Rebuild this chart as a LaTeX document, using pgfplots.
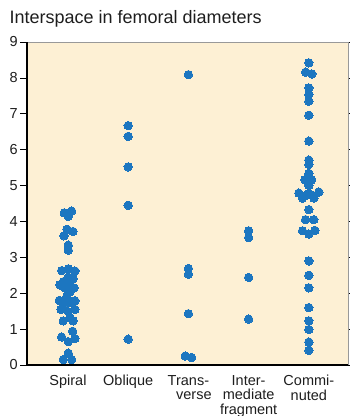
\documentclass[border=0pt]{standalone}
\usepackage{fontspec}
\setmainfont{Liberation Sans}
\usepackage{pgfplots}
\pgfplotsset{compat=1.18}
\usepackage{pgfplotstable}
\definecolor{dotblue}{HTML}{1C76C0}
\definecolor{cream}{HTML}{FDF0D4}
\definecolor{txt}{HTML}{1E1E1E}
\pgfplotsset{dot/.style={only marks, mark=*, mark size=4.2pt, color=dotblue, mark options={fill=dotblue, draw=dotblue, line width=0pt}}}

\pgfplotstableread{
x y
0.939 4.24
1.061 4.29
1.005 4.14
0.983 3.78
1.083 3.72
0.934 3.60
1.005 3.34
1.005 3.20
0.895 2.63
1.005 2.68
1.116 2.62
1.005 2.45
1.088 2.40
0.922 2.32
0.867 2.23
1.033 2.24
0.950 2.15
1.100 2.15
1.033 2.04
0.978 1.90
0.856 1.80
1.116 1.79
0.950 1.72
1.045 1.74
0.884 1.55
1.116 1.55
1.005 1.49
1.033 1.32
0.922 1.23
1.088 1.23
1.078 0.94
0.895 0.78
1.116 0.74
1.005 0.65
1.005 0.33
0.922 0.15
1.061 0.15
}\spiral

\pgfplotstableread{
x y
2 6.67
2 6.37
2 5.52
2 4.45
2 0.72
}\oblique

\pgfplotstableread{
x y
3 8.09
3 2.69
3 2.53
3 1.43
2.947 0.25
3.053 0.21
}\transverse

\pgfplotstableread{
x y
4 3.74
4 3.55
4 2.44
4 1.28
}\intermediate

\pgfplotstableread{
x y
5.000 8.42
4.945 8.16
5.050 8.11
5.000 7.72
5.000 7.54
5.000 7.35
5.000 6.96
5.000 6.24
5.000 5.71
5.000 5.59
5.000 5.34
4.934 5.16
5.045 5.16
5.000 5.00
4.834 4.79
5.166 4.82
4.934 4.71
5.083 4.71
5.000 4.78
4.895 4.65
5.083 4.65
5.000 4.33
4.945 4.05
5.083 4.05
4.895 3.74
5.100 3.75
5.000 3.65
5.000 2.90
5.000 2.50
5.000 2.15
5.000 1.60
5.000 1.23
5.000 0.99
5.000 0.64
5.000 0.41
}\comminuted

\begin{document}
\begin{tikzpicture}
\useasboundingbox (0,0) rectangle (350pt,416pt);
\node[anchor=base west, font=\fontsize{18}{20}\selectfont, text=txt, inner sep=0pt] at (9.3pt,392pt) {Interspace in femoral diameters};
\begin{axis}[at={(27pt,51pt)}, anchor=south west, scale only axis,
  width=321pt, height=323pt,
  xmin=0.32, xmax=5.65, ymin=0, ymax=9,
  axis background/.style={fill=cream},
  axis line style={draw=none},
  ytick={0,1,...,9}, tick align=outside, major tick length=7pt,
  ytick style={black, line width=0.6pt},
  y tick label style={font=\fontsize{14.5}{16}\selectfont, text=txt, inner sep=2pt},
  /pgf/number format/assume math mode=true,
  xtick={1,2,3,4,5},
  xticklabels={Spiral, Oblique, {Trans-\\\hspace*{11pt}verse}, {Inter-\\mediate\\fragment}, {Commi-\\nuted}},
  x tick style={draw=none},
  x tick label style={align=center, font=\fontsize{14.5}{14.5}\selectfont, text=txt, yshift=-1pt, inner sep=2pt},
  clip=false,
]
\addplot[dot] table[x=x,y=y] {\spiral};
\addplot[dot] table[x=x,y=y] {\oblique};
\addplot[dot] table[x=x,y=y] {\transverse};
\addplot[dot] table[x=x,y=y] {\intermediate};
\addplot[dot] table[x=x,y=y] {\comminuted};
\draw[gray!80, line width=0.8pt] (rel axis cs:0,1) -- (rel axis cs:1,1) -- (rel axis cs:1,0);
\draw[black, line width=1.3pt] (rel axis cs:0,1) -- (rel axis cs:0,0) -- (rel axis cs:1,0);
\end{axis}
\end{tikzpicture}
\end{document}
